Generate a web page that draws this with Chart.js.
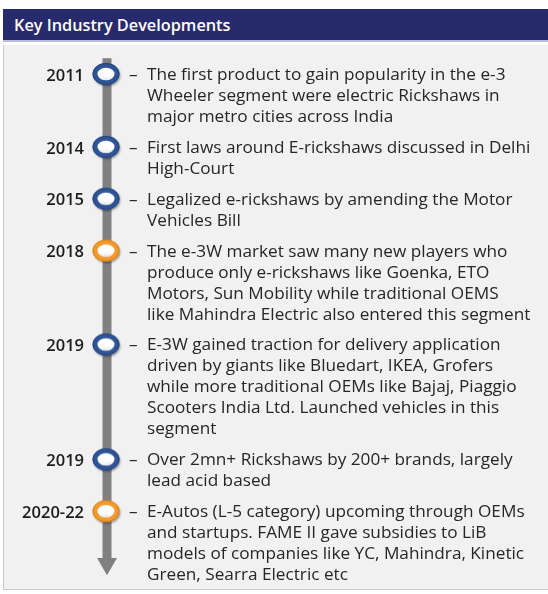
<!DOCTYPE html>
<html>
<head>
<meta charset="utf-8">
<script src="https://cdn.jsdelivr.net/npm/chart.js@4"></script>
<style>
  html, body { margin: 0; padding: 0; background: #ffffff; }
  body { width: 548px; height: 594px; position: relative; overflow: hidden; }
  #header {
    position: absolute; left: 3px; top: 9px; width: 545px; height: 33px;
    background: #272a6c; border-bottom: 2px solid #b9bbe0;
    color: #ffffff; font-family: "Open Sans", sans-serif; font-weight: 600;
    font-size: 16.3px; line-height: 33px; padding-left: 11px; box-sizing: border-box;
  }
  #panel {
    position: absolute; left: 3px; top: 45px; width: 545px; height: 545px;
    background: #f1f1f1; border-left: 1px solid #c8c8c8; border-bottom: 1px solid #c8c8c8;
    box-sizing: border-box;
  }
  #c { position: absolute; left: 0; top: 0; }
</style>
</head>
<body>
<div id="header">Key Industry Developments</div>
<div id="panel"></div>
<canvas id="c" width="548" height="594"></canvas>
<script>
// ---- data ----
const years = ['2011', '2014', '2015', '2018', '2019', '2019', '2020-22'];
const highlighted = [false, false, false, true, false, false, true];
const descriptions = [
  ['The first product to gain popularity in the e-3', 'Wheeler segment were electric Rickshaws in', 'major metro cities across India'],
  ['First laws around E-rickshaws discussed in Delhi', 'High-Court'],
  ['Legalized e-rickshaws by amending the Motor', 'Vehicles Bill'],
  ['The e-3W market saw many new players who', 'produce only e-rickshaws like Goenka, ETO', 'Motors, Sun Mobility while traditional OEMS', 'like Mahindra Electric also entered this segment'],
  ['E-3W gained traction for delivery application', 'driven by giants like Bluedart, IKEA, Grofers', 'while more traditional OEMs like Bajaj, Piaggio', 'Scooters India Ltd. Launched vehicles in this', 'segment'],
  ['Over 2mn+ Rickshaws by 200+ brands, largely', 'lead acid based'],
  ['E-Autos (L-5 category) upcoming through OEMs', 'and startups. FAME II gave subsidies to LiB', 'models of companies like YC, Mahindra, Kinetic', 'Green, Searra Electric etc']
];

// ---- layout (in text-line units) ----
const GAP = 0.47;
const positions = [];
{
  let p = 0;
  descriptions.forEach((d) => { positions.push(p); p += d.length + GAP; });
}
const lastPos = positions[positions.length - 1];
const lineStart = -0.8;
const arrowAt = lastPos + 2.45;

// ---- marker images ----
function ringImage(fill, edge) {
  const c = document.createElement('canvas');
  c.width = 36; c.height = 30;
  const g = c.getContext('2d');
  const cx = 17, cy = 14;
  g.save();
  g.shadowColor = 'rgba(0,0,0,0.35)';
  g.shadowBlur = 2; g.shadowOffsetX = 1; g.shadowOffsetY = 1.5;
  g.beginPath(); g.ellipse(cx, cy, 13.5, 11, 0, 0, Math.PI * 2);
  g.fillStyle = fill; g.fill();
  g.restore();
  g.beginPath(); g.ellipse(cx, cy, 13, 10.5, 0, 0, Math.PI * 2);
  g.lineWidth = 1; g.strokeStyle = edge; g.stroke();
  const grad = g.createLinearGradient(0, cy - 7, 0, cy + 7);
  grad.addColorStop(0, '#ffffff'); grad.addColorStop(0.6, '#ffffff'); grad.addColorStop(1, '#e4e4e4');
  g.beginPath(); g.ellipse(cx, cy, 8.5, 6.3, 0, 0, Math.PI * 2);
  g.fillStyle = grad; g.fill();
  return c;
}
const blueRing = ringImage('#2f5597', '#22437e');
const orangeRing = ringImage('#f29a2e', '#dc8014');

// ---- text plugin ----
const textPlugin = {
  id: 'timelineText',
  afterDatasetsDraw(chart) {
    const ctx = chart.ctx;
    const xs = chart.scales.x, ys = chart.scales.y;
    const x0 = xs.getPixelForValue(0);
    ctx.save();
    ctx.textBaseline = 'middle';
    descriptions.forEach((lines, i) => {
      const yp = ys.getPixelForValue(positions[i]);
      ctx.fillStyle = '#1c1c1c';
      ctx.font = '600 16.5px "Open Sans", sans-serif';
      ctx.textAlign = 'right';
      ctx.fillText(years[i], x0 - 23, yp + 1);
      ctx.font = '17.2px "Open Sans", sans-serif';
      ctx.fillStyle = '#262626';
      ctx.textAlign = 'left';
      ctx.fillText('\u2013', x0 + 22, yp);
      lines.forEach((t, k) => {
        ctx.fillText(t, x0 + 40, ys.getPixelForValue(positions[i] + k));
      });
    });
    ctx.restore();
  }
};

new Chart(document.getElementById('c'), {
  type: 'scatter',
  data: {
    datasets: [
      {
        type: 'line',
        order: 2,
        data: [{ x: 0, y: lineStart }, { x: 0, y: arrowAt }],
        borderColor: '#808080',
        borderWidth: 9,
        borderCapStyle: 'butt',
        pointRadius: [0, 11.5],
        pointStyle: 'triangle',
        pointRotation: 180,
        pointBackgroundColor: '#808080',
        pointBorderWidth: 0,
        clip: false
      },
      {
        order: 1,
        data: positions.map(p => ({ x: 0, y: p })),
        pointStyle: highlighted.map(h => h ? orangeRing : blueRing),
        pointRadius: 14,
        clip: false
      }
    ]
  },
  options: {
    responsive: false,
    devicePixelRatio: 1,
    animation: false,
    events: [],
    layout: { padding: { left: 97, right: 431, top: 54, bottom: 15 } },
    plugins: { legend: { display: false }, tooltip: { enabled: false } },
    scales: {
      x: { display: false, min: -1, max: 1 },
      y: { display: false, reverse: true, min: -1, max: 24 }
    }
  },
  plugins: [textPlugin]
});
</script>
</body>
</html>
